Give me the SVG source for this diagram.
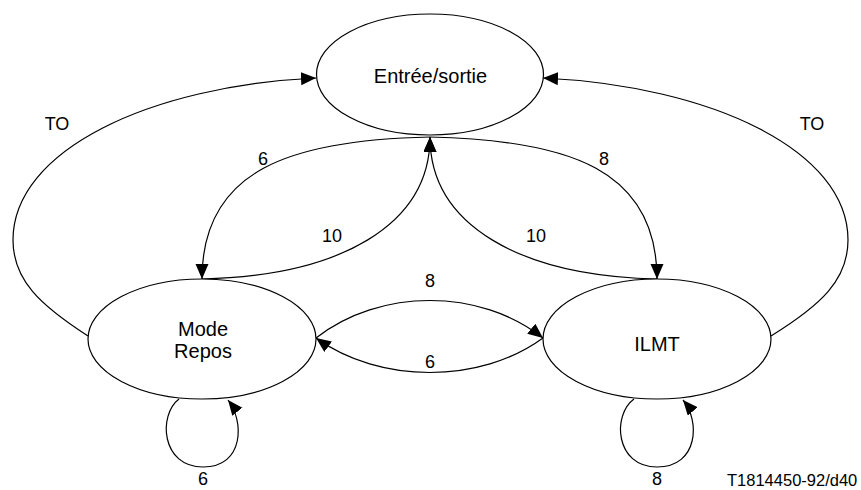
<svg xmlns="http://www.w3.org/2000/svg" width="861" height="490" viewBox="0 0 861 490">
<style>
.node{fill:#fff;stroke:#000;stroke-width:1.2}
.edge{fill:none;stroke:#000;stroke-width:1.2;marker-end:url(#arr)}
.t{font-family:"Liberation Sans",Arial,sans-serif;font-size:20px;fill:#000;text-anchor:middle}
.l{font-family:"Liberation Sans",Arial,sans-serif;font-size:18px;fill:#000;text-anchor:middle}
.c{font-family:"Liberation Sans",Arial,sans-serif;font-size:16.5px;fill:#000}
</style>
<defs>
<marker id="arr" markerUnits="userSpaceOnUse" markerWidth="16" markerHeight="14" refX="15" refY="6.5" orient="auto">
<path d="M0,0 L15,6.5 L0,13 z" fill="#000"/>
</marker>
</defs>
<rect width="861" height="490" fill="#fff"/>
<g id="connectors">
<path class="edge" d="M88,336 C40,305 13,280 13,240 C13,150 150,86 316,78"/>
<path class="edge" d="M771,336 C821,305 848,280 848,240 C848,150 711,86 543,78"/>
<path class="edge" d="M430,137 C290,140 202,170 202,279"/>
<path class="edge" d="M430,137 C570,140 657,170 657,279"/>
<path class="edge" d="M202,279 C340,276 430,225 430,137"/>
<path class="edge" d="M657,279 C520,276 430,225 430,137"/>
<path class="edge" d="M316,338 C380,288 480,288 543,338"/>
<path class="edge" d="M543,338 C480,384 380,384 316,338"/>
<path class="edge" d="M179,399 C158,415 161,467 203,467 C245,467 244,420 228,400"/>
<path class="edge" d="M634,399 C612,415 615,467 657,467 C699,467 700,420 683,400"/>
<text class="l" x="57" y="130">TO</text>
<text class="l" x="812" y="130">TO</text>
<text class="l" x="263" y="165">6</text>
<text class="l" x="604" y="165">8</text>
<text class="l" x="332" y="242">10</text>
<text class="l" x="536" y="242">10</text>
<text class="l" x="430" y="287">8</text>
<text class="l" x="430" y="368">6</text>
<text class="l" x="203" y="485">6</text>
<text class="l" x="657" y="485">8</text>
</g>
<g id="entree-sortie">
<ellipse class="node" cx="430" cy="74.5" rx="113.5" ry="60.5"/>
<text class="t" x="430.5" y="82.5">Entrée/sortie</text>
</g>
<g id="mode-repos">
<ellipse class="node" cx="202" cy="339" rx="114" ry="60"/>
<text class="t" x="203" y="335.5">Mode</text>
<text class="t" x="203" y="358">Repos</text>
</g>
<g id="ilmt">
<ellipse class="node" cx="657" cy="339" rx="114" ry="60"/>
<text class="t" x="657" y="351">ILMT</text>
</g>
<text class="c" x="727" y="486">T1814450-92/d40</text>
</svg>
